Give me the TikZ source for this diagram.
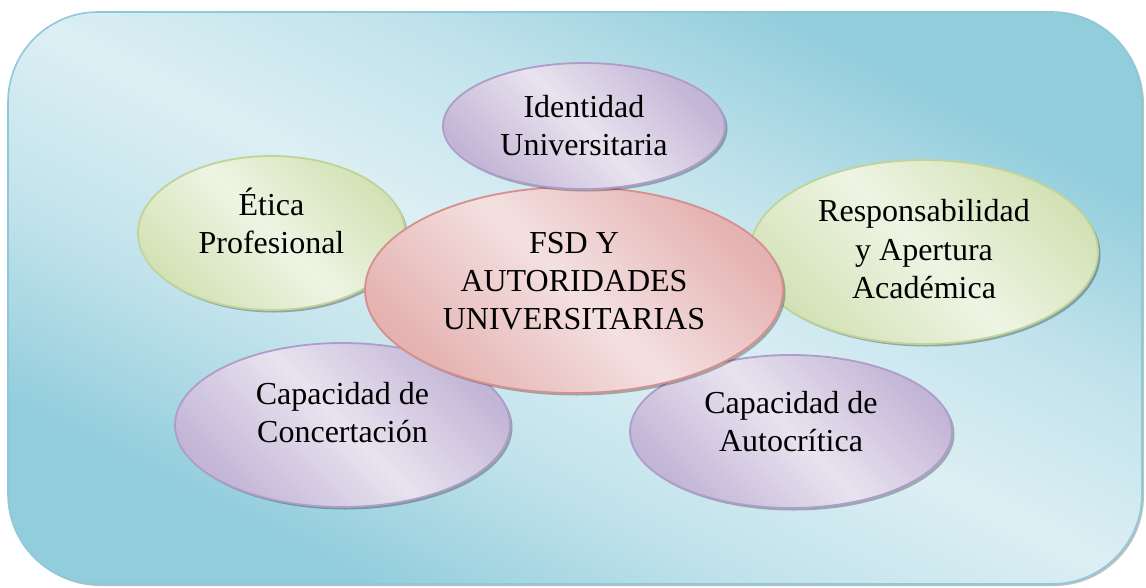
\documentclass[tikz,border=0pt]{standalone}
\usepackage{fontspec}
\setmainfont{Liberation Serif}
\usetikzlibrary{shapes.geometric,shadows,shadings}
\definecolor{bgL}{HTML}{DCEFF4}
\definecolor{bgD}{HTML}{92CDDC}
\colorlet{bgM}{bgL!65!bgD}
\definecolor{bgB}{HTML}{8DC9D8}
\definecolor{pD}{HTML}{C3B5D6}
\definecolor{pL}{HTML}{E8E3EF}
\definecolor{pB}{HTML}{AE9DCA}
\definecolor{gD}{HTML}{D3E2B6}
\definecolor{gL}{HTML}{EEF4E3}
\definecolor{gB}{HTML}{BFD496}
\definecolor{rD}{HTML}{E4B2B1}
\definecolor{rL}{HTML}{F4E0E0}
\definecolor{rB}{HTML}{D68F8D}
\pgfdeclarehorizontalshading{bgsh}{100bp}{color(0bp)=(bgD); color(27bp)=(bgD); color(39bp)=(bgM); color(50bp)=(bgL); color(61bp)=(bgM); color(73bp)=(bgD); color(100bp)=(bgD)}
\pgfdeclarehorizontalshading{purpsh}{100bp}{color(0bp)=(pD); color(25bp)=(pD); color(50bp)=(pL); color(75bp)=(pD); color(100bp)=(pD)}
\pgfdeclarehorizontalshading{greensh}{100bp}{color(0bp)=(gD); color(25bp)=(gD); color(50bp)=(gL); color(75bp)=(gD); color(100bp)=(gD)}
\pgfdeclarehorizontalshading{redsh}{100bp}{color(0bp)=(rD); color(25bp)=(rD); color(50bp)=(rL); color(75bp)=(rD); color(100bp)=(rD)}
\newcommand\ls{\rule[-0.25em]{0pt}{1.16em}}
\begin{document}
\begin{tikzpicture}[x=1pt,y=-1pt,
  bub/.style={ellipse, inner sep=0pt, line width=1.8pt,
    drop shadow={shadow xshift=2.5pt, shadow yshift=-2.5pt, fill=black, opacity=0.28}},
  purp/.style={bub, draw=pB, shading=purpsh, shading angle=45},
  green/.style={bub, draw=gB, shading=greensh, shading angle=45},
  redb/.style={bub, draw=rB, shading=redsh, shading angle=45},
  txt/.style={font=\fontsize{32}{37}\selectfont, align=center, inner sep=0pt, text=black}]
\useasboundingbox (0,0) rectangle (1146,587);
\node[rectangle, rounded corners=90pt, minimum width=1134pt, minimum height=572pt,
  shading=bgsh, shading angle=63.2,
  draw=bgB, line width=1.6pt,
  drop shadow={shadow xshift=2pt, shadow yshift=-2pt, fill=black, opacity=0.25}] (bg) at (575,298) {};
% satellites
\node[green, minimum width=267pt, minimum height=154pt] (etica) at (271.5,233) {};
\node[txt] (tetica) at ([yshift=9.5pt]etica.center) {\ls Ética\\\ls Profesional};
\node[green, minimum width=348pt, minimum height=184pt] (resp) at (924,252) {};
\node[txt] (tresp) at ([yshift=2.5pt]resp.center) {\ls Responsabilidad\\\ls y Apertura\\\ls Académica};
\node[purp, minimum width=335pt, minimum height=164pt] (conc) at (342.5,425) {};
\node[txt] (tconc) at ([yshift=12pt]conc.center) {\ls Capacidad de\\\ls Concertación};
\node[purp, minimum width=322pt, minimum height=153pt] (auto) at (791,431.5) {};
\node[txt] (tauto) at ([yshift=10pt]auto.center) {\ls Capacidad de\\\ls Autocrítica};
% centre
\node[redb, minimum width=418pt, minimum height=206pt] (fsd) at (574,290) {};
\node[txt] (tfsd) at ([yshift=9pt]fsd.center) {\ls FSD Y\\\ls AUTORIDADES\\\ls UNIVERSITARIAS};
\node[purp, minimum width=282pt, minimum height=126pt] (ident) at (584,126) {};
\node[txt] (tident) at ([yshift=0pt]ident.center) {\ls Identidad\\\ls Universitaria};
\end{tikzpicture}
\end{document}
